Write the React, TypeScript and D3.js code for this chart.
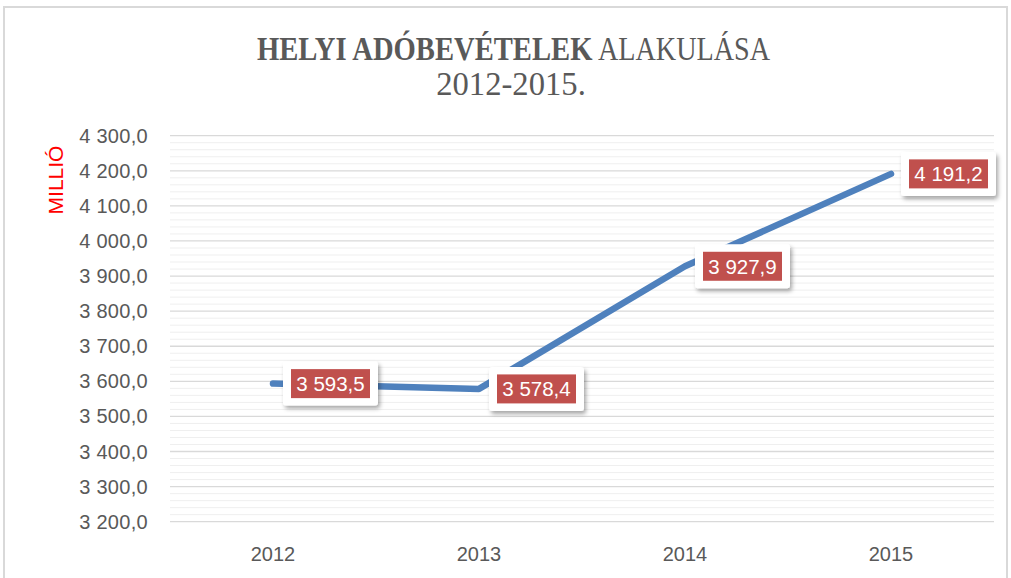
import React from "react";
import * as d3 from "d3";

const categories = ["2012", "2013", "2014", "2015"];
const values = [3593.5, 3578.4, 3927.9, 4191.2];
const yTicks = [3200, 3300, 3400, 3500, 3600, 3700, 3800, 3900, 4000, 4100, 4200, 4300];
const titleBold = "HELYI ADÓBEVÉTELEK";
const titleRest = "ALAKULÁSA";
const titleLine2 = "2012-2015.";
const yAxisTitle = "MILLIÓ";

const fmt = (v: number, digits: number) => {
  const s = v.toFixed(digits);
  const [int, dec] = s.split(".");
  const intSp = int.replace(/\B(?=(\d{3})+(?!\d))/g, " ");
  return dec !== undefined ? `${intSp},${dec}` : intSp;
};

export default function App() {
  const W = 1011, H = 578;
  const left = 170, right = 994, top = 135.7, bottom = 521.7;
  const x = d3.scaleBand<string>().domain(categories).range([left, right]);
  const y = d3.scaleLinear().domain([3200, 4300]).range([bottom, top]);
  const minorTicks = d3.range(3200, 4300.1, 20).filter((v) => v % 100 !== 0);
  const cx = (c: string) => (x(c) as number) + x.bandwidth() / 2;
  const line = d3
    .line<number>()
    .x((_, i) => cx(categories[i]))
    .y((d) => y(d));
  const font = "'Liberation Sans', Arial, sans-serif";
  const serif = "'Liberation Serif', 'DejaVu Serif', serif";
  const grey = "#595959";

  return (
    <svg width={W} height={H} style={{ position: "absolute", left: 0, top: 0, background: "#fff" }}>
      <defs>
        <filter id="sh" x="-20%" y="-30%" width="150%" height="170%">
          <feDropShadow dx="2" dy="3" stdDeviation="2.2" floodColor="#000" floodOpacity="0.35" />
        </filter>
      </defs>
      <rect x={0} y={0} width={W} height={H} fill="#fff" />
      <rect x={4} y={7} width={1003} height={590} fill="none" stroke="#d9d9d9" strokeWidth={2} />
      <text
        transform="translate(257,60) scale(0.895,1.03)"
        fontFamily={serif}
        fontSize={32}
        fontWeight="bold"
        fill={grey}
      >
        {titleBold}
      </text>
      <text
        transform="translate(598,60) scale(0.88,1.03)"
        fontFamily={serif}
        fontSize={32}
        fill={grey}
      >
        {titleRest}
      </text>
      <text
        transform="translate(511,95) scale(1.02,1.03)"
        textAnchor="middle"
        fontFamily={serif}
        fontSize={32}
        fill={grey}
      >
        {titleLine2}
      </text>
      {minorTicks.map((t) => (
        <line key={"m" + t} x1={left} x2={right} y1={y(t)} y2={y(t)} stroke="#efefef" strokeWidth={1} />
      ))}
      {yTicks.map((t) => (
        <line key={"g" + t} x1={left} x2={right} y1={y(t)} y2={y(t)} stroke="#d9d9d9" strokeWidth={1.3} />
      ))}
      {yTicks.map((t) => (
        <text key={"t" + t} x={148} y={y(t) + 7} textAnchor="end" fontFamily={font} fontSize={20} letterSpacing={0.3} fill={grey}>
          {fmt(t, 1)}
        </text>
      ))}
      <text
        transform={`translate(62.5,180) rotate(-90)`}
        textAnchor="middle"
        fontFamily={font}
        fontSize={21}
        fill="#ff0000"
      >
        {yAxisTitle}
      </text>
      {categories.map((c) => (
        <text key={c} x={cx(c)} y={561} textAnchor="middle" fontFamily={font} fontSize={20} fill={grey}>
          {c}
        </text>
      ))}
      <path d={line(values) || ""} fill="none" stroke="#4f81bd" strokeWidth={6.5} strokeLinecap="round" strokeLinejoin="round" />
      {values.map((v, i) => {
        const px = cx(categories[i]);
        const py = y(v);
        const bx = px + 10;
        const bw = 95, bh = 44;
        return (
          <g key={"l" + i}>
            <rect x={bx} y={py - bh / 2} width={bw} height={bh} rx={3} fill="#fff" filter="url(#sh)" />
            <rect x={bx + 8} y={py - 14.5} width={bw - 16} height={29} fill="#c0504d" />
            <text x={bx + bw / 2} y={py + 7.5} textAnchor="middle" fontFamily={font} fontSize={20.5} fill="#fff">
              {fmt(v, 1)}
            </text>
          </g>
        );
      })}
    </svg>
  );
}
